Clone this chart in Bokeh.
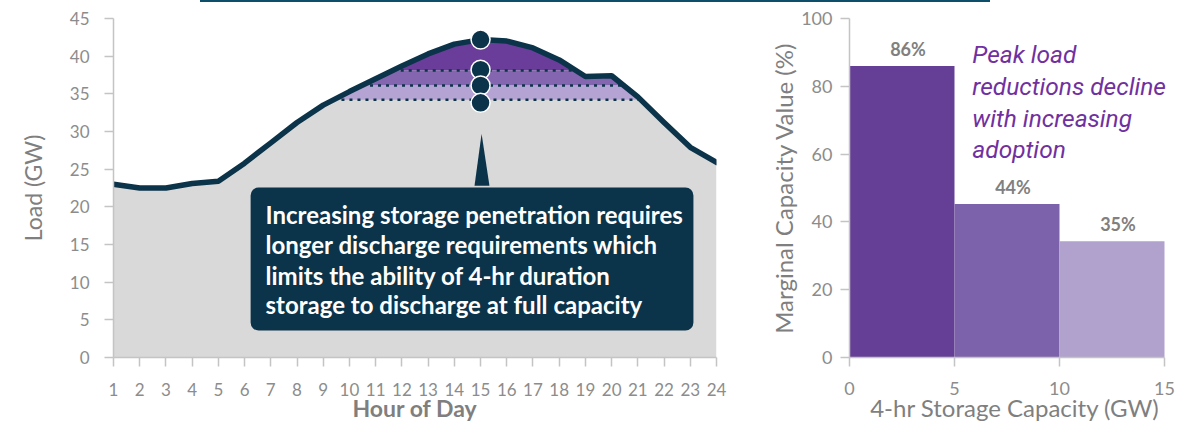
import numpy as np
from bokeh.plotting import figure
from bokeh.layouts import row, column
from bokeh.models import BoxAnnotation, FixedTicker, Range1d, Div
from bokeh.core.properties import value
from bokeh.embed import file_html
from bokeh.resources import INLINE

# ---------------- data ----------------
hours = list(range(1, 25))
load_gw = [23.0, 22.5, 22.5, 23.1, 23.4, 25.8, 28.5, 31.2, 33.5, 35.3, 37.0, 38.7,
           40.3, 41.6, 42.2, 42.0, 41.1, 39.5, 37.3, 37.4, 34.6, 31.2, 27.9, 25.9]
dispatch_levels = [38.1, 36.1, 34.2]          # net peak after each storage tranche
marker_hour = 15
marker_loads = [42.2, 38.2, 36.1, 33.8]
y_ticks_load = [0, 5, 10, 15, 20, 25, 30, 35, 40, 45]

capacity_edges = [0, 5, 10, 15]
capacity_value = [86, 45.3, 34.3]
capacity_labels = ["86%", "44%", "35%"]
x_ticks_cap = [0, 5, 10, 15]
y_ticks_cap = [0, 20, 40, 60, 80, 100]

callout_lines = ["Increasing storage penetration requires",
                 "longer discharge requirements which",
                 "limits the ability of 4-hr duration",
                 "storage to discharge at full capacity"]
note_lines = ["Peak load", "reductions decline", "with increasing", "adoption"]

# ---------------- style ----------------
NAVY = "#0b3349"
GRAY_FILL = "#d9d9d9"
BAND_COLORS = ["#6a3d9a", "#8466b0", "#b4a3d3"]
BAR_COLORS = ["#653f96", "#7c62aa", "#b1a1cd"]
TICK_GRAY = "#8c8c8c"
LABEL_GRAY = "#7f7f7f"
AXIS_GRAY = "#c4c4c4"
FONT = "Lato"
H = 423


def style_axes(p, tick_size, label_size):
    for ax in (p.xaxis[0], p.yaxis[0]):
        ax.axis_line_color = AXIS_GRAY
        ax.axis_line_width = 1.5
        ax.major_tick_line_color = AXIS_GRAY
        ax.major_tick_line_width = 1.5
        ax.major_tick_in = 0
        ax.major_tick_out = 9
        ax.minor_tick_line_color = None
        ax.major_label_text_font = FONT
        ax.major_label_text_font_size = tick_size
        ax.major_label_text_color = TICK_GRAY
        ax.axis_label_text_font = FONT
        ax.axis_label_text_font_size = label_size
        ax.axis_label_text_color = LABEL_GRAY
        ax.axis_label_text_font_style = "normal"
    p.xgrid.grid_line_color = None
    p.ygrid.grid_line_color = None
    p.outline_line_color = None


# ---------------- left chart ----------------
p1 = figure(width=740, height=H, x_range=Range1d(1, 24), y_range=Range1d(0, 45),
            output_backend="svg", toolbar_location=None,
            min_border_left=113, min_border_right=24, min_border_top=16, min_border_bottom=68)

xs = np.linspace(hours[0], hours[-1], 2301)
ys = np.interp(xs, hours, load_gw)

p1.varea(x=hours, y1=0, y2=load_gw, fill_color=GRAY_FILL)
bounds = [dispatch_levels[0] + 100] + dispatch_levels
for i in range(3):
    hi, lo = bounds[i], bounds[i + 1]
    p1.varea(x=xs, y1=lo, y2=np.clip(ys, lo, hi), fill_color=BAND_COLORS[i])
for lvl in dispatch_levels:
    m = ys >= lvl
    p1.line([xs[m].min(), xs[m].max()], [lvl, lvl], line_color=NAVY, line_width=2.5,
            line_dash="3 5")
p1.line(hours, load_gw, line_color=NAVY, line_width=5.5, line_join="round", line_cap="round")
p1.scatter([marker_hour] * len(marker_loads), marker_loads, size=19, fill_color=NAVY,
           line_color="white", line_width=1.5)

# callout
p1.patch([14.77, 15.04, 15.34], [22.8, 29.7, 22.8], fill_color=NAVY, line_color=None)
p1.add_layout(BoxAnnotation(left=6.23, right=23.12, top=22.57, bottom=3.58,
                            fill_color=NAVY, fill_alpha=1.0, line_color=None,
                            border_radius=8))
t = p1.text(x=[6.80] * 4, y=[18.92, 14.94, 10.95, 6.97], text=callout_lines,
            text_font=value(FONT), text_font_style="bold", text_font_size="24px",
            text_color="white", text_align="left", text_baseline="middle")
t.level = "overlay"

p1.xaxis.ticker = FixedTicker(ticks=hours)
p1.yaxis.ticker = FixedTicker(ticks=y_ticks_load)
p1.xaxis.axis_label = "Hour of Day"
p1.yaxis.axis_label = "Load (GW)"
style_axes(p1, "17px", "23px")
p1.xaxis.axis_label_text_font_style = "bold"
p1.xaxis.major_label_standoff = 16
p1.xaxis.axis_label_standoff = -5
p1.yaxis.major_label_standoff = 15
p1.yaxis.axis_label_standoff = 20

# ---------------- right chart ----------------
p2 = figure(width=464, height=H, x_range=Range1d(0, 15.762), y_range=Range1d(0, 100),
            output_backend="svg", toolbar_location=None,
            min_border_left=109, min_border_right=24, min_border_top=16, min_border_bottom=68)
p2.quad(left=capacity_edges[:-1], right=capacity_edges[1:], bottom=0, top=capacity_value,
        fill_color=BAR_COLORS, line_color=None)
centers = [(a + b) / 2 for a, b in zip(capacity_edges[:-1], capacity_edges[1:])]
p2.text(x=centers, y=capacity_value, text=capacity_labels, x_offset=6, y_offset=-17,
        text_font=value(FONT), text_font_style="bold", text_font_size="18px",
        text_color="#808080", text_align="center", text_baseline="middle")
p2.text(x=[5.85] * 4, y=[89.4, 79.96, 70.5, 61.4], text=note_lines,
        text_font=value("Roboto"), text_font_style="italic", text_font_size="24.5px",
        text_color="#7030a0", text_align="left", text_baseline="middle")

p2.xaxis.ticker = FixedTicker(ticks=x_ticks_cap)
p2.yaxis.ticker = FixedTicker(ticks=y_ticks_cap)
p2.xaxis.bounds = (0, 15)
p2.xaxis.axis_label = "4-hr Storage Capacity (GW)"
p2.yaxis.axis_label = "Marginal Capacity Value (%)"
style_axes(p2, "18px", "24px")
p2.xaxis.major_label_standoff = 15
p2.xaxis.axis_label_standoff = -5
p2.yaxis.major_label_standoff = 8
p2.yaxis.axis_label_standoff = 0

# thin rule at the very top (edge of a cut-off banner)
rule = Div(text="", width=790, height=2, margin=(0, 0, 0, 200),
           styles={"background-color": "#0d4e6a", "overflow": "hidden"})

layout = column(rule, row(p1, p2))
open("out.html", "w").write(file_html(layout, INLINE))
